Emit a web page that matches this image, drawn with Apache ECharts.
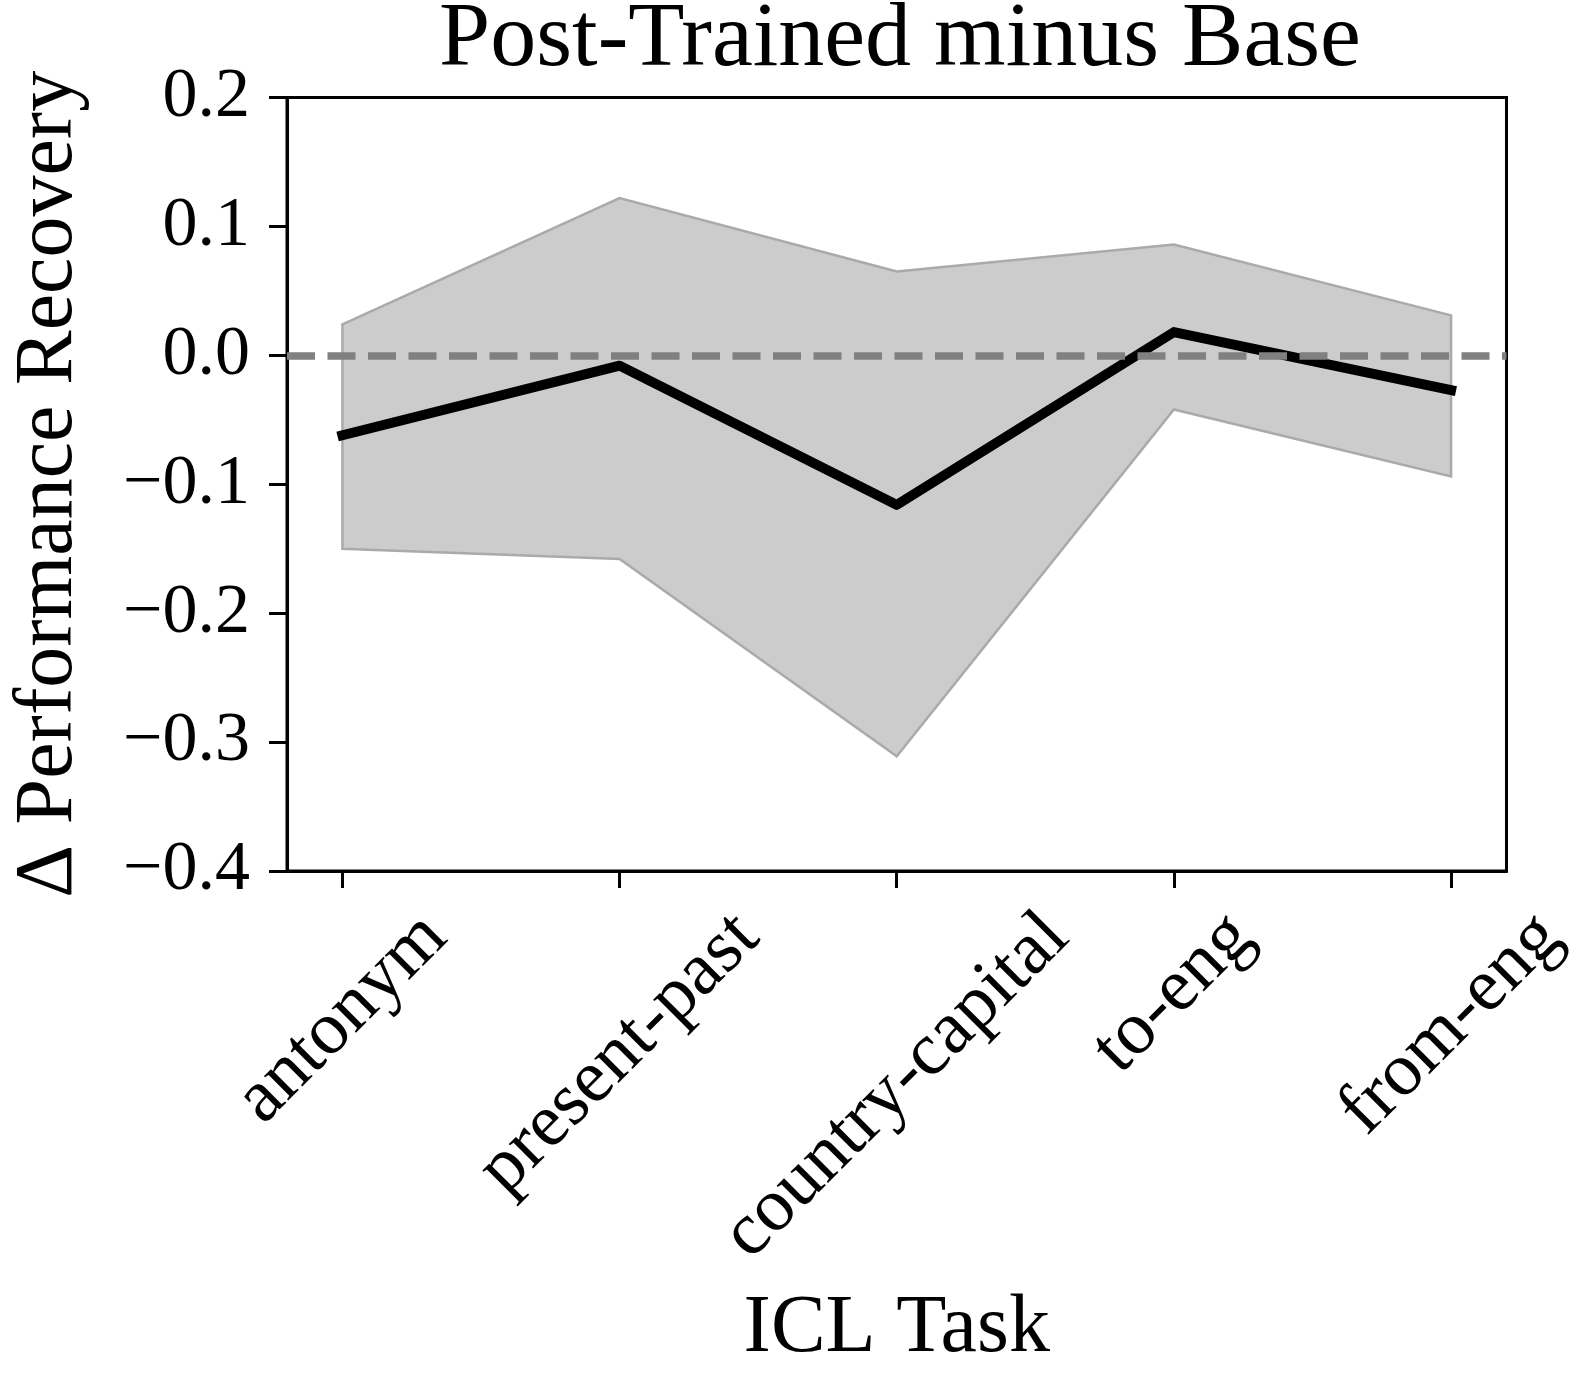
<!DOCTYPE html>
<html>
<head>
<meta charset="utf-8">
<script src="https://cdn.jsdelivr.net/npm/echarts@6/dist/echarts.min.js"></script>
<style>
  html, body { margin: 0; padding: 0; background: #fff; }
  #chart { width: 1578px; height: 1375px; }
</style>
</head>
<body>
<div id="chart"></div>
<script>
// ---- data ----
const tasks = ['antonym', 'present-past', 'country-capital', 'to-eng', 'from-eng'];
const meanDelta = [-0.062, -0.008, -0.116, 0.018, -0.027];
const upperBand = [0.024, 0.122, 0.065, 0.086, 0.031];
const lowerBand = [-0.150, -0.158, -0.311, -0.042, -0.094];
const taskTicks = [0, 1, 2, 3, 4];

// ---- style ----
const FONT = '"Liberation Serif", "Times New Roman", serif';
const YTICK_FS = 70;
const XTICK_FS = 75;
const LABEL_FS = 82;
const TITLE_FS = 92;

// measure tick label widths to emulate centred rotated labels
const cv = document.createElement('canvas');
const ctx = cv.getContext('2d');
ctx.font = XTICK_FS + 'px "Liberation Serif"';
const H = XTICK_FS * 0.9;
const rich = {};
tasks.forEach((t, i) => {
  const w = ctx.measureText(t).width;
  rich['t' + i] = {
    width: w / 2 + (w + H) / 4,
    lineHeight: (w + H) / 2,
    align: 'left',
    fontSize: XTICK_FS,
    fontFamily: FONT,
    color: '#000'
  };
});

function fmtY(v) {
  const r = Math.round(v * 10) / 10;
  const s = Math.abs(r).toFixed(1);
  return r < 0 ? '\u2212' + s : s;
}

const chart = echarts.init(document.getElementById('chart'));
chart.setOption({
  animation: false,
  backgroundColor: '#fff',
  title: {
    text: 'Post-Trained minus Base',
    left: 895,
    top: -10,
    textAlign: 'center',
    textStyle: { fontFamily: FONT, fontSize: TITLE_FS, fontWeight: 'normal', color: '#000' }
  },
  grid: {
    left: 279, right: 62, top: 97.5, bottom: 493,
    show: true, borderColor: '#000', borderWidth: 3, backgroundColor: 'transparent'
  },
  xAxis: {
    type: 'value',
    min: -0.2, max: 4.2,
    name: 'ICL Task',
    nameLocation: 'middle',
    nameGap: 417,
    nameTextStyle: { fontFamily: FONT, fontSize: LABEL_FS, color: '#000' },
    splitLine: { show: false },
    axisLine: { show: true, onZero: false, lineStyle: { color: '#000', width: 3 } },
    axisTick: { show: true, length: 17, lineStyle: { color: '#000', width: 3 }, customValues: taskTicks },
    axisLabel: {
      customValues: taskTicks,
      rotate: 45,
      align: 'right',
      verticalAlign: 'top',
      margin: 31,
      hideOverlap: false,
      formatter: v => '{t' + v + '|' + tasks[v] + '}',
      rich: rich,
      fontSize: XTICK_FS, fontFamily: FONT, color: '#000'
    }
  },
  yAxis: {
    type: 'value',
    min: -0.4, max: 0.2, interval: 0.1,
    name: '\u0394 Performance Recovery',
    nameLocation: 'middle',
    nameGap: 197,
    nameTextStyle: { fontFamily: FONT, fontSize: LABEL_FS, color: '#000' },
    splitLine: { show: false },
    axisLine: { show: true, onZero: false, lineStyle: { color: '#000', width: 3 } },
    axisTick: { show: true, length: 18, lineStyle: { color: '#000', width: 3 } },
    axisLabel: { margin: 37, fontSize: YTICK_FS, fontFamily: FONT, color: '#000', formatter: fmtY }
  },
  series: [
    {
      type: 'custom',
      name: 'band',
      z: 2,
      silent: true,
      data: tasks.map((t, i) => [i, lowerBand[i], upperBand[i]]),
      encode: { x: 0, y: [1, 2] },
      renderItem: function (params, api) {
        if (params.dataIndex !== 0) return null;
        const pts = [];
        for (let i = 0; i < tasks.length; i++) pts.push(api.coord([i, upperBand[i]]));
        for (let i = tasks.length - 1; i >= 0; i--) pts.push(api.coord([i, lowerBand[i]]));
        return {
          type: 'polygon',
          shape: { points: pts },
          style: { fill: '#cccccc', stroke: '#aaaaaa', lineWidth: 2.5 }
        };
      }
    },
    {
      type: 'line',
      name: 'mean',
      z: 3,
      silent: true,
      symbol: 'none',
      data: tasks.map((t, i) => [i, meanDelta[i]]),
      lineStyle: { color: '#000', width: 10, join: 'round', cap: 'square' }
    },
    {
      type: 'line',
      name: 'zero',
      z: 4,
      silent: true,
      data: [],
      markLine: {
        silent: true,
        symbol: 'none',
        label: { show: false },
        lineStyle: { color: '#808080', width: 7.5, type: [28, 12.5], cap: 'butt' },
        data: [{ yAxis: 0 }]
      }
    }
  ]
});
</script>
</body>
</html>
